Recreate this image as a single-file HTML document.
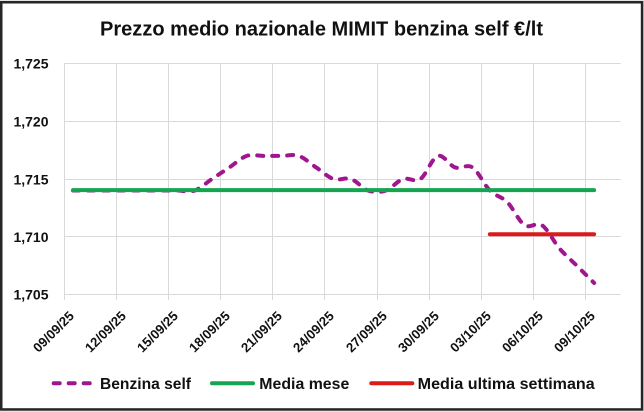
<!DOCTYPE html>
<html>
<head>
<meta charset="utf-8">
<style>
  html, body { margin: 0; padding: 0; background: #e4e4e4; }
  body { width: 644px; height: 412px; overflow: hidden; }
  svg { display: block; }
  text { font-family: "Liberation Sans", Arial, sans-serif; font-weight: bold; fill: #111; }
</style>
</head>
<body>
<svg width="644" height="412" viewBox="0 0 644 412" xmlns="http://www.w3.org/2000/svg">
  <!-- frame -->
  <rect x="1.25" y="2.25" width="640.8" height="407.2" fill="#ffffff" stroke="#262626" stroke-width="2.5"/>

  <!-- title -->
  <text x="321.5" y="35.5" font-size="20" text-anchor="middle" textLength="443" lengthAdjust="spacingAndGlyphs">Prezzo medio nazionale MIMIT benzina self €/lt</text>

  <!-- horizontal gridlines -->
  <g stroke="#d9d9d9" stroke-width="1">
    <line x1="64.5" y1="63.5" x2="620.7" y2="63.5"/>
    <line x1="64.5" y1="121.5" x2="620.7" y2="121.5"/>
    <line x1="64.5" y1="179.5" x2="620.7" y2="179.5"/>
    <line x1="64.5" y1="236.5" x2="620.7" y2="236.5"/>
    <line x1="64.5" y1="294.5" x2="620.7" y2="294.5"/>
  </g>
  <!-- vertical gridlines -->
  <g stroke="#d9d9d9" stroke-width="1">
    <line x1="64.5" y1="63.5" x2="64.5" y2="300"/>
    <line x1="116.5" y1="63.5" x2="116.5" y2="300"/>
    <line x1="168.5" y1="63.5" x2="168.5" y2="300"/>
    <line x1="220.5" y1="63.5" x2="220.5" y2="300"/>
    <line x1="272.5" y1="63.5" x2="272.5" y2="300"/>
    <line x1="324.5" y1="63.5" x2="324.5" y2="300"/>
    <line x1="377.5" y1="63.5" x2="377.5" y2="300"/>
    <line x1="429.5" y1="63.5" x2="429.5" y2="300"/>
    <line x1="481.5" y1="63.5" x2="481.5" y2="300"/>
    <line x1="533.5" y1="63.5" x2="533.5" y2="300"/>
    <line x1="585.5" y1="63.5" x2="585.5" y2="300"/>
  </g>

  <!-- y axis labels -->
  <g font-size="14" text-anchor="end">
    <text x="48.5" y="68.5">1,725</text>
    <text x="48.5" y="126.3">1,720</text>
    <text x="48.5" y="184.3">1,715</text>
    <text x="48.5" y="241.8">1,710</text>
    <text x="48.5" y="299.5">1,705</text>
  </g>

  <!-- x axis labels -->
  <g font-size="13.2" text-anchor="end">
    <text transform="translate(74.8,316.8) rotate(-45)">09/09/25</text>
    <text transform="translate(126.8,316.8) rotate(-45)">12/09/25</text>
    <text transform="translate(178.8,316.8) rotate(-45)">15/09/25</text>
    <text transform="translate(230.8,316.8) rotate(-45)">18/09/25</text>
    <text transform="translate(282.8,316.8) rotate(-45)">21/09/25</text>
    <text transform="translate(334.8,316.8) rotate(-45)">24/09/25</text>
    <text transform="translate(387.8,316.8) rotate(-45)">27/09/25</text>
    <text transform="translate(439.8,316.8) rotate(-45)">30/09/25</text>
    <text transform="translate(491.8,316.8) rotate(-45)">03/10/25</text>
    <text transform="translate(543.8,316.8) rotate(-45)">06/10/25</text>
    <text transform="translate(595.8,316.8) rotate(-45)">09/10/25</text>
  </g>

  <!-- Benzina self (smoothed, dashed) -->
  <path fill="none" stroke="#a0168e" stroke-width="4" stroke-linecap="round" stroke-linejoin="round" stroke-dasharray="6 9"
    d="M73 190.55
       L177.22 190.55
       C183.01 190.55 188.8 192.475 194.59 190.55
       C200.38 188.625 206.17 182.85 211.96 179
       C217.75 175.15 223.54 171.3 229.33 167.45
       C235.12 163.6 240.91 157.825 246.7 155.9
       C252.49 153.975 258.28 155.9 264.07 155.9
       L281.44 155.9
       C287.23 155.9 293.02 153.975 298.81 155.9
       C304.6 157.825 310.39 163.6 316.18 167.45
       C321.97 171.3 327.76 177.075 333.55 179
       C339.34 180.925 345.13 177.075 350.92 179
       C356.71 180.925 362.5 188.625 368.29 190.55
       C374.08 192.475 379.87 192.475 385.66 190.55
       C391.45 188.625 397.24 180.925 403.03 179
       C408.82 177.075 414.61 182.85 420.4 179
       C426.19 175.15 431.98 157.825 437.77 155.9
       C443.56 153.975 449.35 165.525 455.14 167.45
       C460.93 169.375 466.72 163.6 472.51 167.45
       C478.3 171.3 484.09 184.775 489.88 190.55
       C495.67 196.325 501.46 196.325 507.25 202.1
       C513.04 207.875 518.83 221.35 524.62 225.2
       C530.41 229.05 536.2 221.35 541.99 225.2
       C547.78 229.05 553.57 241.567 559.36 248.3
       C565.15 255.033 570.94 259.825 576.73 265.6
       C582.52 271.375 591.2 280.058 594.1 282.95"/>

  <!-- Media mese -->
  <line x1="73" y1="190.1" x2="594.1" y2="190.1" stroke="#14a550" stroke-width="4" stroke-linecap="round"/>
  <!-- Media ultima settimana -->
  <line x1="489.88" y1="234.3" x2="594.1" y2="234.3" stroke="#dc1a1a" stroke-width="4" stroke-linecap="round"/>

  <!-- legend -->
  <line x1="53.7" y1="383.3" x2="89.7" y2="383.3" stroke="#a0168e" stroke-width="4" stroke-linecap="round" stroke-dasharray="6 9"/>
  <text x="100" y="389" font-size="16" textLength="91" lengthAdjust="spacingAndGlyphs">Benzina self</text>
  <line x1="212" y1="383.3" x2="253" y2="383.3" stroke="#14a550" stroke-width="4" stroke-linecap="round"/>
  <text x="259.3" y="389" font-size="16" textLength="90" lengthAdjust="spacingAndGlyphs">Media mese</text>
  <line x1="371.3" y1="383.3" x2="412.3" y2="383.3" stroke="#dc1a1a" stroke-width="4" stroke-linecap="round"/>
  <text x="417.7" y="389" font-size="16" textLength="177" lengthAdjust="spacingAndGlyphs">Media ultima settimana</text>
</svg>
</body>
</html>
